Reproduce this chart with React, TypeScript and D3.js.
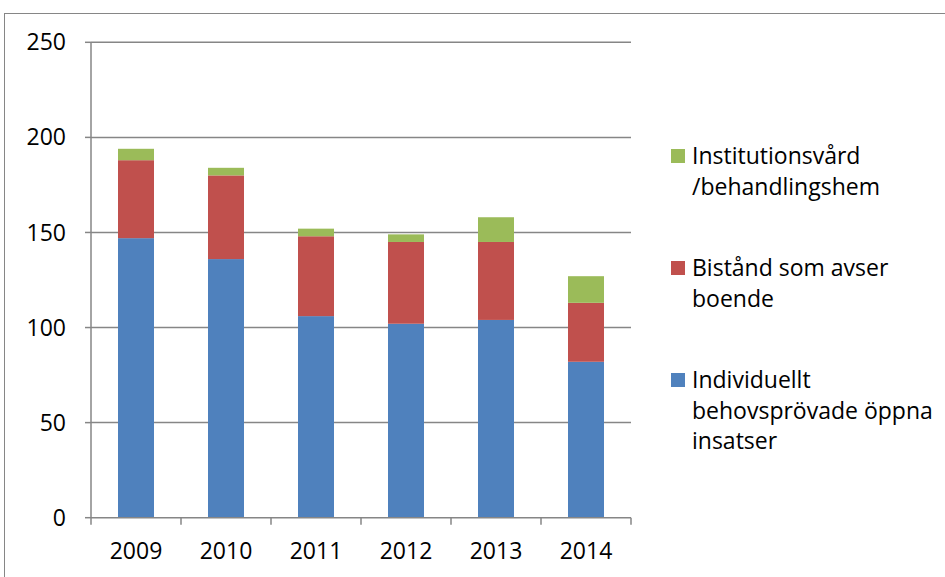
import React from "react";
import * as d3 from "d3";

const years = ["2009", "2010", "2011", "2012", "2013", "2014"];
const individuellt = [147, 136, 106, 102, 104, 82];
const bistand = [41, 44, 42, 43, 41, 31];
const institution = [6, 4, 4, 4, 13, 14];
const yTicks = [0, 50, 100, 150, 200, 250];

const seriesNames = [
  ["Individuellt", "behovsprövade öppna", "insatser"],
  ["Bistånd som avser", "boende"],
  ["Institutionsvård", "/behandlingshem"],
];
const colors = ["#4F81BD", "#C0504D", "#9BBB59"];

const W = 945;
const H = 577;
const plot = { left: 91, right: 631, top: 42.3, bottom: 517.7 };
const FONT = "'Open Sans', sans-serif";
const FS = 23;

export default function App() {
  const x = d3.scaleBand<string>().domain(years).range([plot.left, plot.right]).paddingInner(0.6).paddingOuter(0.3);
  const xb = d3.scaleBand<string>().domain(years).range([plot.left, plot.right]);
  const y = d3.scaleLinear().domain([0, 250]).range([plot.bottom, plot.top]);

  const table = years.map((yr, i) => ({ year: yr, a: individuellt[i], b: bistand[i], c: institution[i] }));
  const stack = d3.stack<any>().keys(["a", "b", "c"])(table);

  const legendItems = [
    { ci: 2, lines: seriesNames[2], y0: 156 },
    { ci: 1, lines: seriesNames[1], y0: 268 },
    { ci: 0, lines: seriesNames[0], y0: 380 },
  ];
  const lineH = 30.5;

  return (
    <svg width={W} height={H} style={{ position: "absolute", left: 0, top: 0, background: "#fff" }} fontFamily={FONT}>
      <rect x={4.5} y={13.5} width={W + 10} height={H + 10} fill="#fff" stroke="#868686" strokeWidth={1} />
      {yTicks.map((t) => (
        <g key={t}>
          {t > 0 && <line x1={plot.left} x2={plot.right} y1={y(t)} y2={y(t)} stroke="#868686" strokeWidth={1.5} />}
          <line x1={plot.left - 6} x2={plot.left} y1={y(t)} y2={y(t)} stroke="#868686" strokeWidth={1.5} />
          <text x={plot.left - 25} y={y(t)} dy="0.35em" textAnchor="end" fontSize={FS} fill="#000">
            {t}
          </text>
        </g>
      ))}
      {stack.map((s, si) =>
        s.map((d, i) => (
          <rect
            key={si + "-" + i}
            x={x(years[i])}
            width={x.bandwidth()}
            y={y(d[1])}
            height={y(d[0]) - y(d[1])}
            fill={colors[si]}
          />
        ))
      )}
      <line x1={plot.left} x2={plot.left} y1={plot.top} y2={plot.bottom} stroke="#868686" strokeWidth={1.5} />
      <line x1={plot.left} x2={plot.right} y1={plot.bottom} y2={plot.bottom} stroke="#868686" strokeWidth={1.5} />
      {years.map((yr, i) => (
        <line key={"t" + i} x1={xb(yr)} x2={xb(yr)} y1={plot.bottom} y2={plot.bottom + 7} stroke="#868686" strokeWidth={1.5} />
      ))}
      <line x1={plot.right} x2={plot.right} y1={plot.bottom} y2={plot.bottom + 7} stroke="#868686" strokeWidth={1.5} />
      {years.map((yr) => (
        <text key={"l" + yr} x={(xb(yr) as number) + xb.bandwidth() / 2} y={551} dy="0.35em" textAnchor="middle" fontSize={FS} fill="#000">
          {yr}
        </text>
      ))}
      {legendItems.map((it) => (
        <g key={it.ci}>
          <rect x={671} y={it.y0 - 7} width={14} height={14} fill={colors[it.ci]} />
          {it.lines.map((ln, li) => (
            <text key={li} x={692} y={it.y0 + li * lineH} dy="0.35em" fontSize={FS} fill="#000">
              {ln}
            </text>
          ))}
        </g>
      ))}
    </svg>
  );
}
